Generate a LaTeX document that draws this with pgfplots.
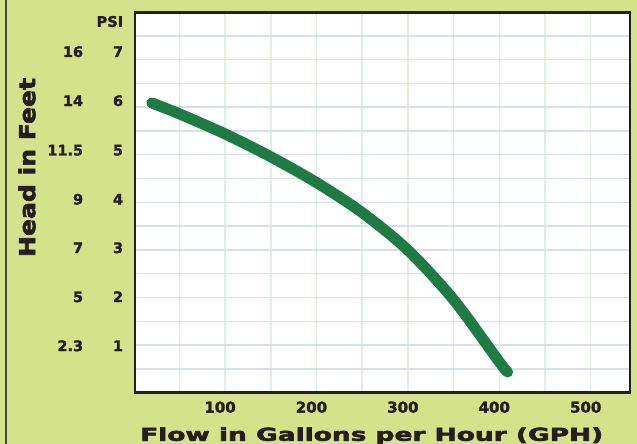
\documentclass[border=0pt]{standalone}
\usepackage{fontspec}
\setmainfont{DejaVu Sans}
\newfontfamily\blk{DejaVu Sans Bold}[FakeBold=1.8]
\newfontfamily\blkk{DejaVu Sans Bold}[FakeBold=2.6]
\usepackage{graphicx}
\usepackage{pgfplots}
\pgfplotsset{compat=1.18}
\definecolor{bg}{RGB}{212,227,138}
\definecolor{curve}{RGB}{30,123,70}
\definecolor{frame}{RGB}{35,31,32}
\definecolor{vgrid}{RGB}{222,240,226}
\definecolor{hgrid}{RGB}{216,224,234}
\begin{document}
\begin{tikzpicture}[x=1pt,y=1pt]
\fill[bg] (0,0) rectangle (637,444);
\draw[line width=2pt, gray!55!black] (6,0) -- (6,444);
\begin{axis}[
  at={(135pt,51.3pt)}, anchor=south west,
  scale only axis, width=495pt, height=380pt,
  xmin=1.5, xmax=543, ymin=0, ymax=15.97,
  axis background/.style={fill=white},
  xtick={100,200,300,400,500},
  xticklabels={100,200,300,400,500},
  minor xtick={50,100,...,500},
  ytick={1.97,4.03,6.09,8.13,10.19,12.27,14.33,15.6},
  yticklabels={
    \makebox[0pt][r]{2.3}\makebox[40pt][r]{1},
    \makebox[0pt][r]{5}\makebox[40pt][r]{2},
    \makebox[0pt][r]{7}\makebox[40pt][r]{3},
    \makebox[0pt][r]{9}\makebox[40pt][r]{4},
    \makebox[0pt][r]{11.5}\makebox[40pt][r]{5},
    \makebox[0pt][r]{14}\makebox[40pt][r]{6},
    \makebox[0pt][r]{16}\makebox[40pt][r]{7},
    \makebox[40pt][r]{PSI}},
  minor ytick={1,...,15},
  xminorgrids, yminorgrids,
  x grid style={vgrid, line width=1.5pt},
  y grid style={hgrid, line width=1.5pt},
  major tick length=0pt, minor tick length=0pt,
  axis line style={line width=2.5pt, frame},
  xticklabel style={font=\blk\fontsize{15}{15}\selectfont, text=frame, anchor=north, inner sep=0pt, xshift=-5pt, yshift=-8.6pt},
  yticklabel style={font=\blk\fontsize{14.5}{14.5}\selectfont, text=frame, anchor=east, inner sep=0pt, xshift=-11.7pt},
]
\addplot[curve, line width=11pt, line cap=round, smooth] coordinates {
 (19.8,12.18) (50,11.72) (99.2,10.89) (149.2,9.93) (199.6,8.84)
 (249.6,7.58) (299.5,6.01) (349.8,3.92) (400.1,1.29) (409.1,0.87)
};
\end{axis}
\node[rotate=90, inner sep=0pt, text=frame, font=\blkk\fontsize{22}{22}\selectfont] at (27,276.5) {\resizebox{179pt}{\height}{Head in Feet}};
\node[anchor=base west, inner sep=0pt, text=frame, font=\blkk\fontsize{17.8}{17.8}\selectfont] at (140,3.2) {\resizebox{463pt}{\height}{Flow in Gallons per Hour (GPH)}};
\pgfresetboundingbox
\useasboundingbox (0,0) rectangle (637,444);
\end{tikzpicture}
\end{document}
